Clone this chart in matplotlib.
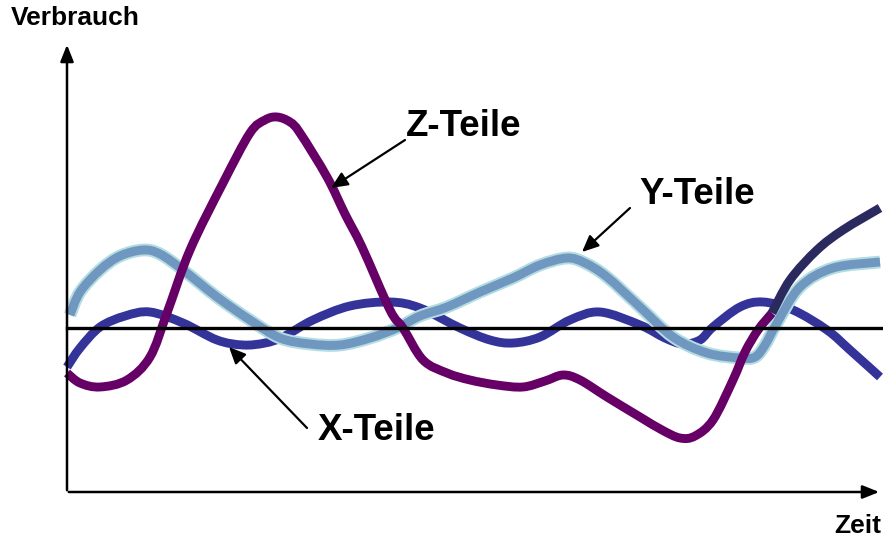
import matplotlib
matplotlib.use("Agg")
import matplotlib.pyplot as plt
import matplotlib.patheffects as pe
from matplotlib.path import Path
from matplotlib.patches import PathPatch

# Data (time position, consumption level; level axis points downward like the picture)
z_time = [67, 80, 100, 127, 150, 167, 190, 223, 250, 265, 277, 290, 300, 327, 345, 362,
          390, 403, 423, 447, 470, 497, 523, 545, 563, 580, 607, 640, 662, 680, 695, 713,
          733, 745, 758, 772]
z_level = [373, 383, 387, 380, 357, 313, 250, 183, 133, 120, 117, 122, 133, 177, 214, 247,
           310, 328, 360, 373, 380, 385, 387, 381, 375, 380, 397, 417, 430, 438, 436, 420,
           380, 352, 330, 313]
z2_time = [772, 790, 817, 843, 880]
z2_level = [313, 280, 250, 230, 208]

y_time = [70, 80, 100, 120, 143, 160, 183, 217, 250, 280, 310, 340, 370, 397, 420, 447,
          480, 513, 540, 567, 585, 607, 640, 673, 707, 740, 755, 765, 777, 800, 833, 880]
y_level = [315, 292, 270, 256, 250, 254, 270, 297, 320, 338, 344, 345, 338, 328, 316, 307,
           292, 278, 265, 258, 263, 277, 307, 337, 353, 358, 357, 345, 323, 287, 268, 262]

x_time = [67, 80, 100, 125, 150, 183, 217, 243, 265, 283, 313, 350, 390, 420, 460, 490,
          513, 540, 570, 600, 640, 665, 683, 700, 713, 740, 763, 793, 827, 850, 880]
x_level = [367, 348, 327, 316, 312, 323, 340, 345, 343, 337, 320, 306, 302, 308, 328, 340,
           343, 337, 320, 312, 325, 338, 344, 340, 327, 307, 302, 310, 330, 350, 377]

baseline = 328
labels = ["Z-Teile", "Y-Teile", "X-Teile"]


def smooth_path(xs, ys):
    """Catmull-Rom curve through the points, rendered as cubic Bezier segments."""
    pts = list(zip(xs, ys))
    verts = [pts[0]]
    codes = [Path.MOVETO]
    n = len(pts)
    for i in range(n - 1):
        p0 = pts[i - 1] if i > 0 else pts[i]
        p1 = pts[i]
        p2 = pts[i + 1]
        p3 = pts[i + 2] if i + 2 < n else pts[i + 1]
        c1 = (p1[0] + (p2[0] - p0[0]) / 6.0, p1[1] + (p2[1] - p0[1]) / 6.0)
        c2 = (p2[0] - (p3[0] - p1[0]) / 6.0, p2[1] - (p3[1] - p1[1]) / 6.0)
        verts += [c1, c2, p2]
        codes += [Path.CURVE4] * 3
    return Path(verts, codes)


fig = plt.figure(figsize=(8.83, 5.40), dpi=100)
ax = fig.add_axes([0, 0, 1, 1])
ax.set_xlim(0, 883)
ax.set_ylim(540, 0)
ax.axis("off")

lw = 6.4


def draw(xs, ys, color, z, effects=None):
    patch = PathPatch(smooth_path(xs, ys), facecolor="none", edgecolor=color, lw=lw,
                      capstyle="butt", joinstyle="round", zorder=z)
    if effects:
        patch.set_path_effects(effects)
    ax.add_patch(patch)


draw(x_time, x_level, "#333399", 2)
draw(y_time, y_level, "#6f97c0", 3, [pe.Stroke(linewidth=lw + 2.8, foreground="#b3dde2"), pe.Normal()])
draw(z_time, z_level, "#660066", 4)
draw(z2_time, z2_level, "#2b2a5f", 5)

ax.plot([67, 883], [baseline, baseline], color="black", lw=2.4, zorder=6)

# axes with arrows
ax.annotate("", xy=(67, 42), xytext=(67, 493), annotation_clip=False,
            arrowprops=dict(arrowstyle="-|>,head_length=1.0,head_width=0.4", color="black", lw=1.8), zorder=7)
ax.annotate("", xy=(882, 492), xytext=(66, 492), annotation_clip=False,
            arrowprops=dict(arrowstyle="-|>,head_length=1.0,head_width=0.4", color="black", lw=1.8), zorder=7)

font = dict(family="Liberation Sans", weight="bold")
ax.text(11, 18, "Verbrauch", fontsize=19, va="center", ha="left", **font)
ax.text(881, 526, "Zeit", fontsize=19, va="center", ha="right", **font)

arrow = dict(arrowstyle="-|>,head_length=1.0,head_width=0.45", color="black", lw=1.6, shrinkA=0, shrinkB=0)
ax.annotate("", xy=(331, 188), xytext=(405, 140), arrowprops=arrow, zorder=8)
ax.text(406, 127, labels[0], fontsize=26.5, va="center", ha="left", **font)
ax.annotate("", xy=(582, 252), xytext=(630, 208), arrowprops=arrow, zorder=8)
ax.text(639, 195, labels[1], fontsize=26.5, va="center", ha="left", **font)
ax.annotate("", xy=(229, 347), xytext=(307, 428), arrowprops=arrow, zorder=8)
ax.text(318, 430, labels[2], fontsize=26.5, va="center", ha="left", **font)

fig.savefig("out.png", dpi=100)
